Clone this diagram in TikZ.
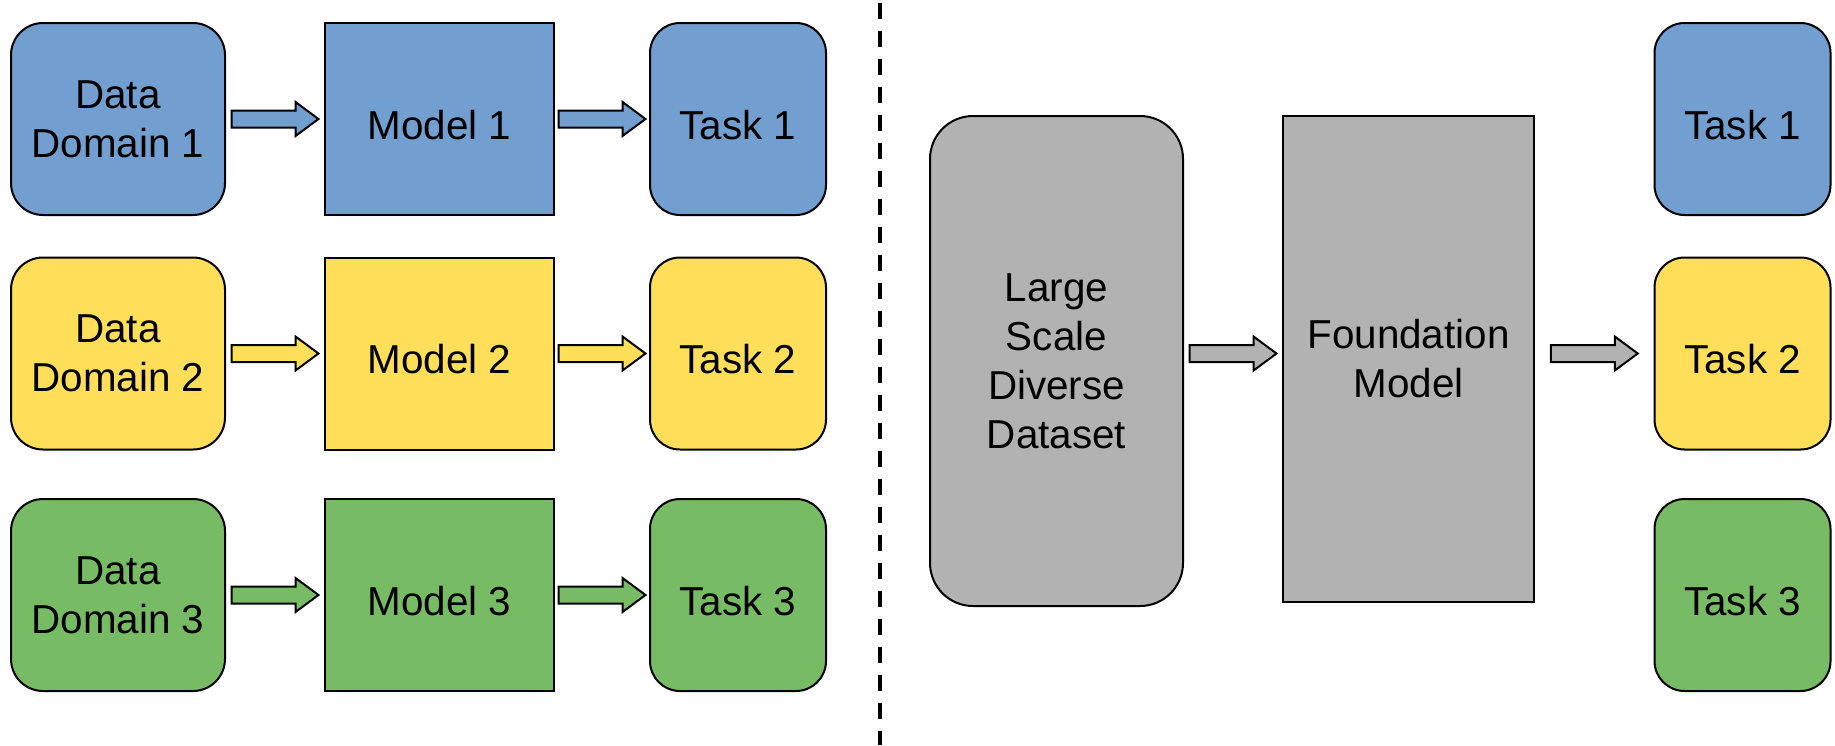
\documentclass[tikz,border=0pt]{standalone}
\usepackage{fontspec}
\setmainfont{Liberation Sans}
\usepackage{tikz}
\usetikzlibrary{positioning,calc}

\definecolor{boxblue}{HTML}{729FCF}
\definecolor{boxyellow}{HTML}{FFDE59}
\definecolor{boxgreen}{HTML}{77BC65}
\definecolor{boxgray}{HTML}{B2B2B2}

\tikzset{
    box/.style={draw, line width=1pt, inner sep=0pt, align=center,
        execute at begin node={\rule{0pt}{20.4pt}}},
    databox/.style={box, rounded corners=16pt, minimum width=107pt, minimum height=96pt},
    modelbox/.style={box, minimum width=114.5pt, minimum height=96pt},
    taskbox/.style={box, rounded corners=15pt, minimum width=88pt, minimum height=96pt},
}

% block arrow, centred between two points
\newcommand{\fatarrow}[3]{%
    \draw[line width=1pt, fill=#3] let \p1=($#1!0.5!#2$) in
        (\x1-21.75pt,\y1+4.25pt) -- (\x1+10.25pt,\y1+4.25pt) -- (\x1+10.25pt,\y1+8.5pt)
        -- (\x1+21.75pt,\y1) -- (\x1+10.25pt,\y1-8.5pt) -- (\x1+10.25pt,\y1-4.25pt)
        -- (\x1-21.75pt,\y1-4.25pt) -- cycle;}

\begin{document}
\begin{tikzpicture}[x=0.5pt, y=-0.5pt, every node/.style={font=\fontsize{20.2}{24.5}\selectfont}]
    \useasboundingbox (0,0) rectangle (1835,745);

    % one model per domain
    \node (dd1) [databox, fill=boxblue] at (118,119) {Data\\Domain 1};
    \node (m1) [modelbox, fill=boxblue, right=49pt of dd1] {Model 1};
    \node (t1) [taskbox, fill=boxblue, right=47pt of m1] {Task 1};

    \node (dd2) [databox, fill=boxyellow] at (118,353.5) {Data\\Domain 2};
    \node (m2) [modelbox, fill=boxyellow, right=49pt of dd2] {Model 2};
    \node (t2) [taskbox, fill=boxyellow, right=47pt of m2] {Task 2};

    \node (dd3) [databox, fill=boxgreen] at (118,595) {Data\\Domain 3};
    \node (m3) [modelbox, fill=boxgreen, right=49pt of dd3] {Model 3};
    \node (t3) [taskbox, fill=boxgreen, right=47pt of m3] {Task 3};

    \fatarrow{(dd1.east)}{(m1.west)}{boxblue}
    \fatarrow{(m1.east)}{(t1.west)}{boxblue}
    \fatarrow{(dd2.east)}{(m2.west)}{boxyellow}
    \fatarrow{(m2.east)}{(t2.west)}{boxyellow}
    \fatarrow{(dd3.east)}{(m3.west)}{boxgreen}
    \fatarrow{(m3.east)}{(t3.west)}{boxgreen}

    % divider
    \draw[line width=1.75pt, dash pattern=on 8pt off 6pt] (880,3) -- (880,745);

    % one foundation model for all tasks
    \node (lsd) [box, fill=boxgray, rounded corners=21.5pt, minimum width=126.5pt, minimum height=245pt]
        at (1056.5,361) {Large\\Scale\\Diverse\\Dataset};
    \node (fm) [box, fill=boxgray, minimum width=125.5pt, minimum height=242.75pt]
        at (1408.5,358.75) {Foundation\\Model};

    \node (tr1) [taskbox, fill=boxblue] at (1742.5,119) {Task 1};
    \node (tr2) [taskbox, fill=boxyellow] at (1742.5,353.5) {Task 2};
    \node (tr3) [taskbox, fill=boxgreen] at (1742.5,595) {Task 3};

    \fatarrow{(lsd.east |- tr2)}{(fm.west |- tr2)}{boxgray}
    \fatarrow{(fm.east |- tr2)}{(tr2.west)}{boxgray}
\end{tikzpicture}
\end{document}
